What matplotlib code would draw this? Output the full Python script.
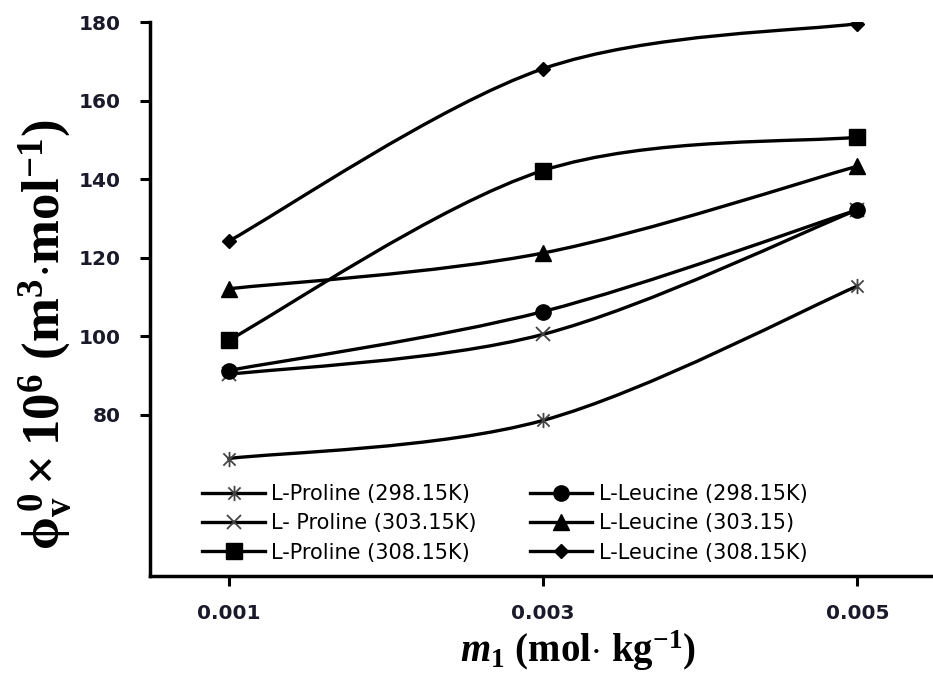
import matplotlib
matplotlib.use("Agg")
import matplotlib.pyplot as plt
from matplotlib.path import Path
from matplotlib.patches import PathPatch
from matplotlib.lines import Line2D

plt.rcParams['mathtext.fontset'] = 'custom'
plt.rcParams['mathtext.rm'] = 'Liberation Serif:bold'
plt.rcParams['mathtext.it'] = 'Liberation Serif:bold:italic'
plt.rcParams['mathtext.bf'] = 'Liberation Serif:bold'

# ---- data ----
m1 = [0.001, 0.003, 0.005]
proline_298 = [68.9, 78.6, 112.8]
proline_303 = [90.3, 100.5, 132.2]
proline_308 = [99.0, 142.2, 150.7]
leucine_298 = [91.3, 106.3, 132.2]
leucine_303 = [112.1, 121.2, 143.3]
leucine_308 = [124.2, 168.1, 179.6]
labels = ["L-Proline (298.15K)", "L- Proline (303.15K)", "L-Proline (308.15K)",
          "L-Leucine (298.15K)", "L-Leucine (303.15)", "L-Leucine (308.15K)"]
xticks = [0.001, 0.003, 0.005]
xticklabels = ["0.001", "0.003", "0.005"]
yticks = [80, 100, 120, 140, 160, 180]

# star marker (X with vertical bar), as in Excel
star = Path([(-1, -1), (1, 1), (-1, 1), (1, -1), (0, -1.25), (0, 1.25)],
            [Path.MOVETO, Path.LINETO, Path.MOVETO, Path.LINETO, Path.MOVETO, Path.LINETO])

series = [
    (proline_298, dict(marker=star, ms=11, mfc='none', mec='#444444', mew=1.3)),
    (proline_303, dict(marker='x', ms=10, mec='#444444', mew=1.3)),
    (proline_308, dict(marker='s', ms=11, mfc='black', mec='black')),
    (leucine_298, dict(marker='o', ms=11, mfc='black', mec='black')),
    (leucine_303, dict(marker='^', ms=11, mfc='black', mec='black')),
    (leucine_308, dict(marker='D', ms=7.5, mfc='black', mec='black')),
]

fig = plt.figure(figsize=(9.33, 6.75), dpi=100)
ax = fig.add_axes([150/933, 99/675, 786/933, 554/675])


def smooth_path(xs, ys):
    """Excel-like smoothed line: cubic Bezier through the data points."""
    pts = list(zip(xs, ys))
    n = len(pts)
    verts = [pts[0]]
    codes = [Path.MOVETO]
    for i in range(n - 1):
        p0 = pts[i - 1] if i > 0 else pts[i]
        p1 = pts[i]
        p2 = pts[i + 1]
        p3 = pts[i + 2] if i + 2 < n else pts[i + 1]
        c1 = (p1[0] + (p2[0] - p0[0]) / 6, p1[1] + (p2[1] - p0[1]) / 6)
        c2 = (p2[0] - (p3[0] - p1[0]) / 6, p2[1] - (p3[1] - p1[1]) / 6)
        verts += [c1, c2, p2]
        codes += [Path.CURVE4] * 3
    return Path(verts, codes)


handles = []
for (ys, st), lab in zip(series, labels):
    ax.add_patch(PathPatch(smooth_path(m1, ys), facecolor='none', edgecolor='black',
                           lw=2.4, zorder=2, capstyle='round'))
    ax.plot(m1, ys, linestyle='none', zorder=3, **st)
    handles.append(Line2D([], [], color='black', lw=2.4, label=lab, **st))

ax.set_xlim(0.0005, 0.0055)
ax.set_ylim(39, 180)
ax.set_xticks(xticks)
ax.set_xticklabels(xticklabels)
ax.set_yticks(yticks)
ax.set_yticklabels([str(v) for v in yticks])
for sp in ['top', 'right']:
    ax.spines[sp].set_visible(False)
for sp in ['left', 'bottom']:
    ax.spines[sp].set_linewidth(2.5)
ax.tick_params(axis='both', direction='out', length=7, width=2.2, color='black')
ax.tick_params(axis='x', pad=13)
ax.tick_params(axis='y', pad=14)
for t in ax.get_xticklabels() + ax.get_yticklabels():
    t.set_fontweight('bold')
    t.set_fontsize(14.5)
    t.set_color('#1a1a2a')

leg = ax.legend(handles=handles, ncol=2, loc='lower left',
                bbox_to_anchor=(42/786, 3/554), frameon=False,
                prop={'family': 'DejaVu Sans', 'size': 15},
                handlelength=3.0, handletextpad=0.3, columnspacing=2.55,
                labelspacing=0.44, borderpad=0)

fig.text(45/933, 1 - 335/675,
         r'$\mathrm{\phi_v^{\,0}\times10^6\ (m^3{\cdot}mol^{-1})}$',
         rotation=90, ha='center', va='center', fontsize=38)
fig.text(578/933, 1 - 651/675,
         r'$\mathit{m}_\mathrm{1}\ \mathrm{(mol{\cdot}\ kg^{-1})}$',
         ha='center', va='center', fontsize=28)

fig.savefig('out.png', dpi=100)
